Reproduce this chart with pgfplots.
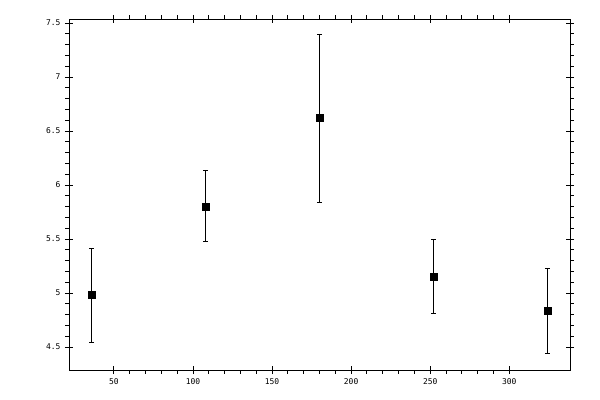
\documentclass[border=0pt]{standalone}
\usepackage{fontspec}
\setmonofont{DejaVu Sans Mono}
\usepackage{pgfplots}
\pgfplotsset{compat=1.18}

\begin{document}
\begin{tikzpicture}
\begin{axis}[
    scale only axis,
    width=501bp, height=351bp,
    xmin=21.6, xmax=338.4,
    ymin=4.287, ymax=7.537,
    xtick={50,100,...,300},
    ytick={4.5,5,...,7.5},
    minor x tick num=4,
    minor y tick num=4,
    tick align=outside,
    major tick length=4bp,
    minor tick length=3.5bp,
    % inner half of the major ticks
    extra x ticks={50,100,...,300},
    extra y ticks={4.5,5,...,7.5},
    extra x tick labels={},
    extra y tick labels={},
    extra tick style={tick align=inside, major tick length=4bp},
    axis line style={line width=0.9bp},
    every tick/.style={black, line width=0.9bp},
    tick label style={font=\ttfamily\fontsize{8}{9}\selectfont},
    /pgf/number format/assume math mode=true,
    xticklabel style={yshift=-1bp},
    yticklabel style={xshift=-1bp},
]
\addplot[only marks, mark=square*, mark size=3.5bp, black,
    error bars/.cd, y dir=both, y explicit,
    error bar style={line width=1bp, black},
    error mark=-,
    error mark options={line width=1bp, mark size=2.3bp, rotate=90, black}]
  table[x=x, y=y, y error plus=ep, y error minus=em] {
    x   y     ep    em
    36  4.98  0.43  0.435
    108 5.80  0.33  0.32
    180 6.62  0.77  0.78
    252 5.155 0.34  0.345
    324 4.84  0.39  0.40
  };
\end{axis}
\pgfresetboundingbox
\path (current axis.south west) ++(-69bp,-30bp) coordinate (bl);
\path (current axis.north east) ++(30bp,19bp) coordinate (tr);
\useasboundingbox (bl) rectangle (tr);
\end{tikzpicture}
\end{document}
